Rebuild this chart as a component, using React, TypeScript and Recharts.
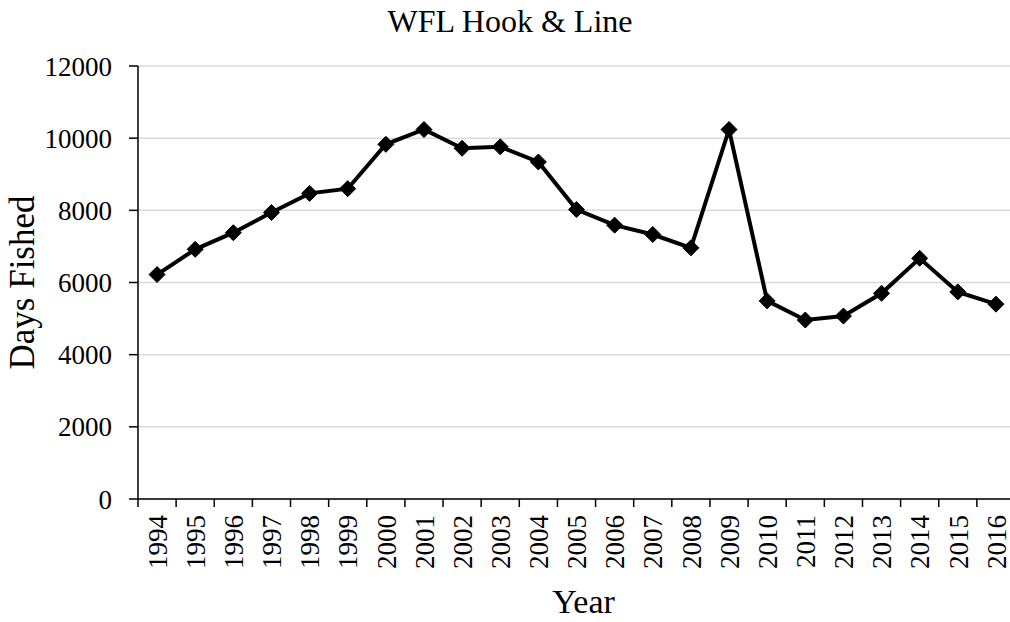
import { LineChart, Line, XAxis, YAxis, CartesianGrid } from 'recharts'

const years = [
  '1994', '1995', '1996', '1997', '1998', '1999', '2000', '2001', '2002', '2003', '2004', '2005',
  '2006', '2007', '2008', '2009', '2010', '2011', '2012', '2013', '2014', '2015', '2016',
]
const daysFished = [
  6220, 6920, 7380, 7940, 8470, 8600, 9830, 10240, 9720, 9760, 9340, 8020,
  7590, 7330, 6960, 10240, 5490, 4960, 5070, 5700, 6670, 5740, 5400,
]
const yTicks = [0, 2000, 4000, 6000, 8000, 10000, 12000]

const data = years.map((year, i) => ({ year, days: daysFished[i] }))

const FONT = '"Liberation Serif", "Times New Roman", serif'
const CHART_W = 1020
const CHART_H = 622
const Y_AXIS_W = 138
const X_AXIS_H = 123
const MARGIN = { top: 66, right: 5, bottom: 0, left: 0 }
const PLOT_W = CHART_W - MARGIN.left - MARGIN.right - Y_AXIS_W
const BAND = PLOT_W / years.length

const YearTick = (props: any) => {
  const { x, y, payload, index } = props
  return (
    <g>
      <line x1={x - BAND / 2} y1={y} x2={x - BAND / 2} y2={y + 8} stroke="#000" strokeWidth={1.5} />
      {index === years.length - 1 && (
        <line x1={x + BAND / 2} y1={y} x2={x + BAND / 2} y2={y + 8} stroke="#000" strokeWidth={1.5} />
      )}
      <text
        x={x}
        y={y + 16}
        dy="0.36em"
        transform={`rotate(-90, ${x}, ${y + 16})`}
        textAnchor="end"
        fontSize={27}
        fontFamily={FONT}
        fill="#000"
      >
        {payload.value}
      </text>
    </g>
  )
}

const Diamond = (props: any) => {
  const { cx, cy, index } = props
  if (cx == null || cy == null) return <g key={index} />
  const r = 8
  return (
    <path
      key={index}
      d={`M${cx},${cy - r} L${cx + r},${cy} L${cx},${cy + r} L${cx - r},${cy} Z`}
      fill="#000"
      stroke="#000"
      strokeWidth={1}
    />
  )
}

export default function App() {
  return (
    <div
      style={{
        position: 'absolute',
        left: 0,
        top: 0,
        width: 1010,
        height: 622,
        overflow: 'hidden',
        background: '#fff',
      }}
    >
      <div
        style={{
          position: 'absolute',
          left: 0,
          top: 5,
          width: CHART_W,
          textAlign: 'center',
          fontFamily: FONT,
          fontSize: 32,
          lineHeight: '32px',
          color: '#000',
        }}
      >
        WFL Hook &amp; Line
      </div>
      <LineChart width={CHART_W} height={CHART_H} data={data} margin={MARGIN}>
        <CartesianGrid vertical={false} stroke="#d9d9d9" strokeWidth={1.5} />
        <XAxis
          dataKey="year"
          height={X_AXIS_H}
          interval={0}
          padding={{ left: BAND / 2, right: BAND / 2 }}
          tickLine={false}
          tickSize={0}
          tickMargin={0}
          axisLine={{ stroke: '#000', strokeWidth: 1.5 }}
          tick={<YearTick />}
          label={{
            value: 'Year',
            position: 'insideBottom',
            offset: 9,
            dx: 7,
            style: { fontSize: 34, fontFamily: FONT, fill: '#000' },
          }}
        />
        <YAxis
          width={Y_AXIS_W}
          domain={[0, 12000]}
          ticks={yTicks}
          interval={0}
          tickSize={9}
          tickMargin={17}
          tickLine={{ stroke: '#000', strokeWidth: 1.5 }}
          axisLine={{ stroke: '#000', strokeWidth: 1.5 }}
          tick={{ fontSize: 27, fontFamily: FONT, fill: '#000' }}
          label={{
            value: 'Days Fished',
            angle: -90,
            position: 'insideLeft',
            offset: 22,
            style: { textAnchor: 'middle', fontSize: 35, fontFamily: FONT, fill: '#000' },
          }}
        />
        <Line
          type="linear"
          dataKey="days"
          stroke="#000"
          strokeWidth={4}
          dot={Diamond}
          activeDot={false}
          isAnimationActive={false}
        />
      </LineChart>
    </div>
  )
}
